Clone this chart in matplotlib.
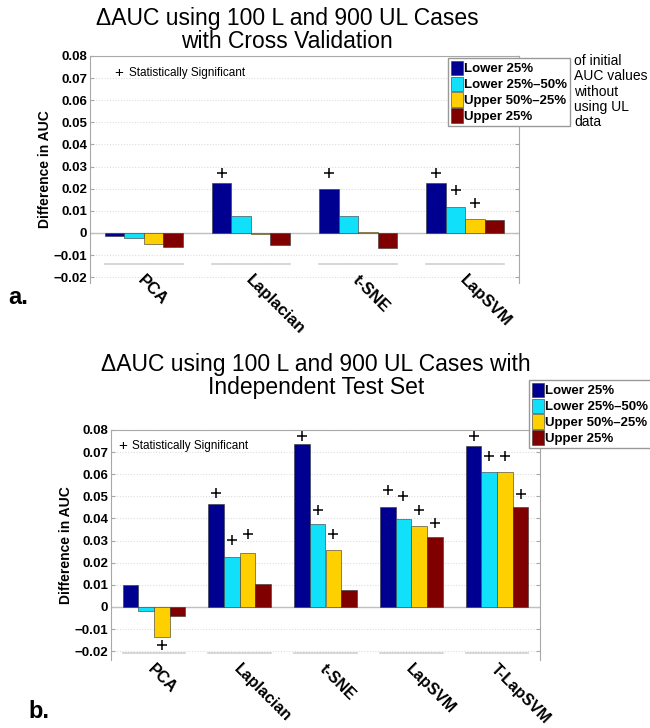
import matplotlib
matplotlib.use("Agg")
import matplotlib.pyplot as plt
import numpy as np

plt.rcParams['font.family'] = ['Liberation Sans', 'DejaVu Sans']

series = ["Lower 25%", "Lower 25%\u201350%", "Upper 50%\u201325%", "Upper 25%"]
colors = ["#000090", "#10E0FA", "#FFD000", "#800000"]

# panel a: cross validation
methods_a = ["PCA", "Laplacian", "t-SNE", "LapSVM"]
vals_a = [
    [-0.0012, 0.0227, 0.0198, 0.0227],
    [-0.0022, 0.0075, 0.0078, 0.0118],
    [-0.0050, -0.0005, 0.0003, 0.0065],
    [-0.0062, -0.0055, -0.0068, 0.0060],
]
# (group, series, y of the + mark)
sig_a = [(1, 0, 0.0273), (2, 0, 0.0273), (3, 0, 0.0273), (3, 1, 0.0195), (3, 2, 0.0135)]

# panel b: independent test set
methods_b = ["PCA", "Laplacian", "t-SNE", "LapSVM", "T-LapSVM"]
vals_b = [
    [0.0100, 0.0466, 0.0738, 0.0452, 0.0727],
    [-0.0020, 0.0228, 0.0373, 0.0398, 0.0610],
    [-0.0138, 0.0246, 0.0256, 0.0365, 0.0610],
    [-0.0043, 0.0103, 0.0075, 0.0318, 0.0450],
]
sig_b = [(0, 2, -0.0172),
         (1, 0, 0.0515), (1, 1, 0.0302), (1, 2, 0.0332),
         (2, 0, 0.0775), (2, 1, 0.0440), (2, 2, 0.0332),
         (3, 0, 0.0530), (3, 1, 0.0500), (3, 2, 0.0440), (3, 3, 0.0378),
         (4, 0, 0.0775), (4, 1, 0.0683), (4, 2, 0.0683), (4, 3, 0.0512)]

yticks = [-0.02, -0.01, 0, 0.01, 0.02, 0.03, 0.04, 0.05, 0.06, 0.07, 0.08]
ytick_labels = ["\u22120.02", "\u22120.01", "0", "0.01", "0.02", "0.03", "0.04",
                "0.05", "0.06", "0.07", "0.08"]

fig = plt.figure(figsize=(6.5, 7.28), dpi=100)

bw = 0.182
grey = "#a8a8a8"


def draw_panel(ax, methods, vals, sig, ylo, seg_y, lab_y, lab_size, note_xy):
    n = len(methods)
    x = np.arange(1, n + 1)
    for j in range(4):
        ax.bar(x + (j - 1.5) * bw, vals[j], width=bw, color=colors[j],
               edgecolor="#333333", linewidth=0.4, label=series[j], zorder=3)
    for g, s, yy in sig:
        ax.plot(g + 1 + (s - 1.5) * bw, yy, marker="+", color="black",
                ms=7, mew=1.1, zorder=4)
    ax.set_xlim(0.5, n + 0.5)
    ax.set_ylim(ylo, 0.08)
    ax.set_yticks(yticks)
    ax.set_yticklabels(ytick_labels, fontsize=9.5, fontweight="bold")
    ax.set_xticks([])
    for yy in yticks:
        ax.axhline(yy, color="#dddddd", lw=0.8, ls=(0, (1, 1.5)), zorder=1)
    ax.axhline(0, color="#c0c0c0", lw=1.0, zorder=2)
    for xx in x:
        ax.plot([xx - 2 * bw, xx + 2 * bw], [seg_y, seg_y], color="#d0d0d0",
                lw=1.2, zorder=2, clip_on=False)
        ax.text(xx + 0.02, lab_y, methods[xx - 1], rotation=-45,
                rotation_mode="anchor", ha="left", va="top", fontsize=lab_size,
                fontweight="bold", clip_on=False)
    for side in ["left", "top", "right"]:
        ax.spines[side].set_color(grey)
    ax.spines["bottom"].set_visible(False)
    ax.tick_params(axis="y", direction="in", length=3, color=grey,
                   right=True, pad=2)
    ax.set_ylabel("Difference in AUC", fontsize=10, fontweight="bold",
                  labelpad=1)
    ax.text(note_xy[0], note_xy[1], "+", transform=ax.transAxes, fontsize=11,
            ha="center", va="center")
    ax.text(note_xy[0] + 0.022, note_xy[1], "Statistically Significant",
            transform=ax.transAxes, fontsize=8.5, ha="left", va="center")


ax1 = fig.add_axes([90 / 650, 1 - 283 / 728, 429 / 650, 227 / 728])
draw_panel(ax1, methods_a, vals_a, sig_a, -0.0226, -0.0141, -0.0178, 12,
           (0.068, 0.925))

ax2 = fig.add_axes([111 / 650, 1 - 660 / 728, 429 / 650, 230 / 728])
draw_panel(ax2, methods_b, vals_b, sig_b, -0.0240, -0.0208, -0.0248, 11.5,
           (0.027, 0.93))

legend_kw = dict(prop={"weight": "bold", "size": 9.5},
                 fancybox=False, edgecolor="#999999", framealpha=1,
                 handlelength=0.95, handleheight=1.35, handletextpad=0.1,
                 labelspacing=0.08, borderpad=0.2, borderaxespad=0)
leg1 = ax1.legend(loc="upper left", bbox_to_anchor=(448 / 650, 1 - 58 / 728),
                  bbox_transform=fig.transFigure, **legend_kw)
leg2 = ax2.legend(loc="upper left", bbox_to_anchor=(529 / 650, 1 - 380 / 728),
                  bbox_transform=fig.transFigure, **legend_kw)

fig.text(574 / 650, 1 - 54 / 728, "of initial\nAUC values\nwithout\nusing UL\ndata",
         fontsize=10, ha="left", va="top", linespacing=1.12)

fig.text(287 / 650, 1 - 30 / 728,
         "\u0394AUC using 100 L and 900 UL Cases\nwith Cross Validation",
         fontsize=16.5, ha="center", va="center", linespacing=1.0)
fig.text(316 / 650, 1 - 376 / 728,
         "\u0394AUC using 100 L and 900 UL Cases with\nIndependent Test Set",
         fontsize=16.5, ha="center", va="center", linespacing=1.0)

fig.text(8 / 650, 1 - 298 / 728, "a.", fontsize=17, fontweight="bold",
         ha="left", va="center")
fig.text(28 / 650, 1 - 712 / 728, "b.", fontsize=17, fontweight="bold",
         ha="left", va="center")

fig.savefig("out.png", dpi=100)
